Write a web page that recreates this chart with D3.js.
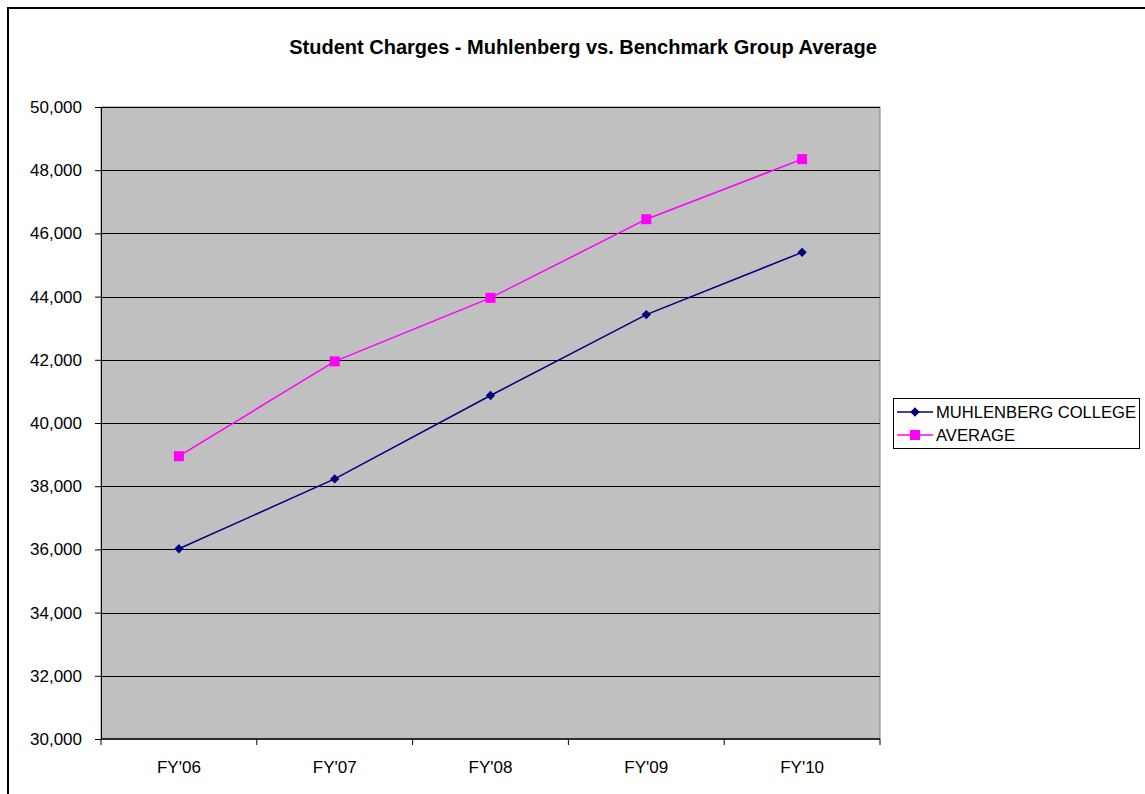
<!DOCTYPE html>
<html>
<head>
<meta charset="utf-8">
<script src="https://cdn.jsdelivr.net/npm/d3@7"></script>
<style>
  body { margin: 0; background: #fff; }
  text { font-family: "Liberation Sans", Arial, sans-serif; }
</style>
</head>
<body>
<div id="chart"></div>
<script>
// chart data
var years = ["FY'06", "FY'07", "FY'08", "FY'09", "FY'10"];
var muhlenberg = [36020, 38230, 40870, 43430, 45400];
var average = [38950, 41950, 43960, 46450, 48350];
var yTicks = [30000, 32000, 34000, 36000, 38000, 40000, 42000, 44000, 46000, 48000, 50000];

var svgWidth = 1145, svgHeight = 794;
var margin = { top: 107, right: 265, bottom: 55, left: 101 };
var chartWidth = 880 - margin.left;
var chartHeight = 739 - margin.top;

var svg = d3.select("#chart").append("svg")
  .attr("width", svgWidth)
  .attr("height", svgHeight);

// outer border
svg.append("rect")
  .attr("x", 8).attr("y", 8)
  .attr("width", svgWidth).attr("height", svgHeight)
  .attr("fill", "none").attr("stroke", "#000").attr("stroke-width", 2);

svg.append("text")
  .attr("x", 583).attr("y", 54)
  .attr("text-anchor", "middle")
  .attr("font-size", "20px").attr("font-weight", "bold")
  .text("Student Charges - Muhlenberg vs. Benchmark Group Average");

var chartGroup = svg.append("g")
  .attr("transform", `translate(${margin.left}, ${margin.top})`);

var xScale = d3.scaleBand().domain(years).range([0, chartWidth]);
var yScale = d3.scaleLinear().domain([30000, 50000]).range([chartHeight, 0]);

chartGroup.append("rect")
  .attr("width", chartWidth).attr("height", chartHeight)
  .attr("fill", "#c0c0c0")
  .attr("stroke", "#808080");

// gridlines
chartGroup.selectAll(".grid")
  .data(yTicks.slice(1))
  .enter().append("line")
  .attr("x1", 0).attr("x2", chartWidth)
  .attr("y1", d => Math.round(yScale(d)) + 0.5)
  .attr("y2", d => Math.round(yScale(d)) + 0.5)
  .attr("stroke", "#000").attr("stroke-width", 1);

var leftAxis = d3.axisLeft(yScale).tickValues(yTicks)
  .tickFormat(d3.format(",")).tickSize(6).tickPadding(13);
var yAxis = chartGroup.append("g").call(leftAxis);
yAxis.select(".domain").attr("stroke", "#000");
yAxis.selectAll("text").attr("font-size", "17px").attr("fill", "#000")
  .attr("font-family", "'Liberation Sans', Arial, sans-serif");

// bottom axis with ticks between categories
var bottomAxis = d3.axisBottom(xScale).tickSize(0).tickPadding(22);
var xAxis = chartGroup.append("g")
  .attr("transform", `translate(0, ${chartHeight})`)
  .call(bottomAxis);
xAxis.select(".domain").remove();
xAxis.selectAll("text").attr("font-size", "17px").attr("fill", "#000")
  .attr("font-family", "'Liberation Sans', Arial, sans-serif");
chartGroup.append("line")
  .attr("x1", 0).attr("x2", chartWidth)
  .attr("y1", chartHeight).attr("y2", chartHeight)
  .attr("stroke", "#000").attr("stroke-width", 1.5);
chartGroup.selectAll(".xtick")
  .data(years.concat(["end"]))
  .enter().append("line")
  .attr("x1", (d, i) => i * xScale.step())
  .attr("x2", (d, i) => i * xScale.step())
  .attr("y1", chartHeight).attr("y2", chartHeight + 6)
  .attr("stroke", "#000");

var line = d3.line()
  .x((d, i) => xScale(years[i]) + xScale.bandwidth() / 2)
  .y(d => yScale(d));

// series
chartGroup.append("path").datum(muhlenberg)
  .attr("d", line).attr("fill", "none")
  .attr("stroke", "#000080").attr("stroke-width", 1.5);
chartGroup.append("path").datum(average)
  .attr("d", line).attr("fill", "none")
  .attr("stroke", "#ff00ff").attr("stroke-width", 1.5);

chartGroup.selectAll(".dia")
  .data(muhlenberg).enter().append("path")
  .attr("d", d3.symbol().type(d3.symbolDiamond2).size(55))
  .attr("transform", (d, i) => `translate(${xScale(years[i]) + xScale.bandwidth() / 2}, ${yScale(d)})`)
  .attr("fill", "#000080");
chartGroup.selectAll(".sq")
  .data(average).enter().append("rect")
  .attr("x", (d, i) => xScale(years[i]) + xScale.bandwidth() / 2 - 5)
  .attr("y", d => yScale(d) - 5)
  .attr("width", 10).attr("height", 10)
  .attr("fill", "#ff00ff");

// legend
var legend = svg.append("g").attr("transform", "translate(893, 398)");
legend.append("rect")
  .attr("x", 0.5).attr("y", 0.5).attr("width", 246).attr("height", 50)
  .attr("fill", "#fff").attr("stroke", "#000");
var series = [
  { name: "MUHLENBERG COLLEGE", color: "#000080", shape: "diamond" },
  { name: "AVERAGE", color: "#ff00ff", shape: "square" }
];
series.forEach(function(s, i) {
  var cy = 14 + i * 23;
  legend.append("line")
    .attr("x1", 4).attr("x2", 40).attr("y1", cy).attr("y2", cy)
    .attr("stroke", s.color).attr("stroke-width", 1.5);
  if (s.shape === "diamond") {
    legend.append("path")
      .attr("d", d3.symbol().type(d3.symbolDiamond2).size(55))
      .attr("transform", `translate(22, ${cy})`)
      .attr("fill", s.color);
  } else {
    legend.append("rect")
      .attr("x", 17).attr("y", cy - 5).attr("width", 10).attr("height", 10)
      .attr("fill", s.color);
  }
  legend.append("text")
    .attr("x", 43).attr("y", cy + 6)
    .attr("font-size", "16.6px")
    .text(s.name);
});
</script>
</body>
</html>
